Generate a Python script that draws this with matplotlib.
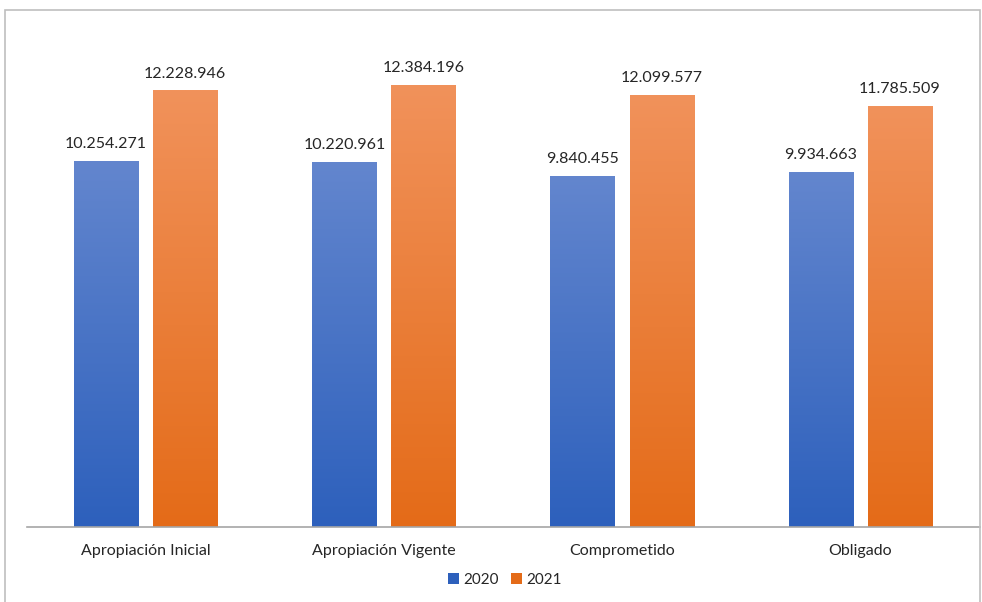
import numpy as np
import matplotlib.pyplot as plt
from matplotlib.patches import Patch, Rectangle
from matplotlib.colors import LinearSegmentedColormap

plt.rcParams['font.family'] = ['Lato', 'DejaVu Sans']

categorias = ['Apropiación Inicial', 'Apropiación Vigente', 'Comprometido', 'Obligado']
valores_2020 = [10254271, 10220961, 9840455, 9934663]
valores_2021 = [12228946, 12384196, 12099577, 11785509]
series = ['2020', '2021']

azul_claro, azul_oscuro = '#6386CE', '#2D60BC'
naranja_claro, naranja_oscuro = '#F1925B', '#E46B18'


def fmt(v):
    return f'{v:,}'.replace(',', '.')


fig = plt.figure(figsize=(9.82, 6.02), dpi=100)
ax = fig.add_axes([26.5 / 982, 75 / 602, 953 / 982, 500 / 602])

x = np.arange(len(categorias))
ancho = 0.27
desp = 0.166

grad = np.linspace(1, 0, 256).reshape(-1, 1)


def barras_gradiente(xs, vals, c_claro, c_oscuro):
    cmap = LinearSegmentedColormap.from_list('g', [c_oscuro, c_claro])
    barras = ax.bar(xs, vals, width=ancho, color='none', edgecolor='none')
    for b in barras:
        x0, y0 = b.get_x(), b.get_y()
        w, h = b.get_width(), b.get_height()
        im = ax.imshow(grad, cmap=cmap, aspect='auto', vmin=0, vmax=1,
                       extent=[x0, x0 + w, y0, y0 + h], zorder=2)
        im.set_clip_path(b)
    for xi, v in zip(xs, vals):
        ax.annotate(fmt(v), (xi, v), xytext=(0, 7), textcoords='offset points',
                    ha='center', va='bottom', fontsize=11.5, color='#262626')


barras_gradiente(x - desp, valores_2020, azul_claro, azul_oscuro)
barras_gradiente(x + desp, valores_2021, naranja_claro, naranja_oscuro)

ax.set_xlim(-0.5, 3.5)
ax.set_ylim(0, 14000000)
ax.set_xticks(x)
ax.set_xticklabels(categorias, fontsize=11.5, color='#262626')
ax.tick_params(axis='x', length=0, pad=12)
ax.set_yticks([])
for s in ['top', 'right', 'left']:
    ax.spines[s].set_visible(False)
ax.spines['bottom'].set_color('#A6A6A6')
ax.spines['bottom'].set_linewidth(1.2)

handles = [Patch(facecolor=azul_oscuro, label=series[0]),
           Patch(facecolor=naranja_oscuro, label=series[1])]
fig.legend(handles=handles, loc='center', bbox_to_anchor=(505 / 982, 1 - 580 / 602),
           ncol=2, frameon=False, fontsize=11, handlelength=0.7, handleheight=0.7,
           handletextpad=0.3, columnspacing=0.8, labelcolor='#262626')

# marco del grafico
fig.patches.append(Rectangle((5 / 982, -0.05), 975 / 982, 1.05 - 10 / 602,
                             transform=fig.transFigure, fill=False,
                             edgecolor='#BFBFBF', linewidth=1.2))

fig.savefig('out.png', dpi=100)
